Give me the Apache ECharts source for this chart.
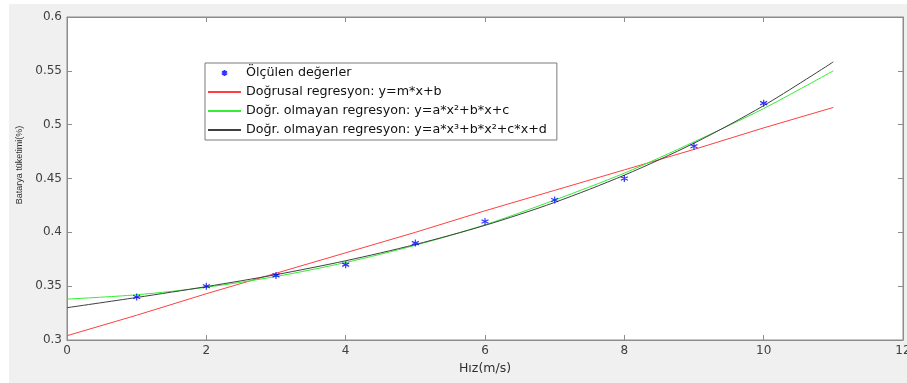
<!DOCTYPE html>
<html lang="tr">
<head>
    <meta charset="UTF-8">
    <title>Batarya tüketimi</title>
    <script src="https://cdn.jsdelivr.net/npm/echarts@6/dist/echarts.min.js"></script>
    <style>
        body { margin: 0; background: #ffffff; }
        #main { position: absolute; left: 9px; top: 4px; width: 898px; height: 379px; background: #f0f0f0; }
    </style>
</head>
<body>

<div id="main"></div>

<script type="text/javascript">
    // ölçülen değerler
    var hiz = [1, 2, 3, 4, 5, 6, 7, 8, 9, 10];
    var tuketim = [0.34, 0.35, 0.36, 0.37, 0.39, 0.41, 0.43, 0.45, 0.48, 0.52];

    // regresyon eğrileri (x = 0..11)
    var egriX = [0, 1, 2, 3, 4, 5, 6, 7, 8, 9, 10, 11];
    var dogrusal = [0.304, 0.323, 0.343, 0.362, 0.381, 0.400, 0.420, 0.439, 0.458, 0.477, 0.497, 0.516];
    var ikinci = [0.338, 0.342, 0.349, 0.359, 0.372, 0.388, 0.407, 0.430, 0.455, 0.484, 0.515, 0.550];
    var ucuncu = [0.330, 0.3395, 0.3496, 0.3607, 0.3736, 0.3887, 0.4065, 0.4278, 0.4531, 0.4828, 0.5177, 0.5583];

    var xTicks = { min: 0, max: 12, interval: 2 };
    var yTicks = { min: 0.3, max: 0.6, interval: 0.05 };

    var isimler = [
        'Ölçülen değerler',
        'Doğrusal regresyon: y=m*x+b',
        'Doğr. olmayan regresyon: y=a*x²+b*x+c',
        'Doğr. olmayan regresyon: y=a*x³+b*x²+c*x+d'
    ];

    function pairs(xs, ys) {
        var out = [];
        for (var i = 0; i < xs.length; i++) {
            out.push([xs[i], ys[i]]);
        }
        return out;
    }

    var yildiz = 'path://M0,-5L0,5M-4.3,-2.5L4.3,2.5M-4.3,2.5L4.3,-2.5';
    var eksenRenk = '#8c8c8c';
    var yazi = { color: '#404040', fontSize: 12, fontFamily: 'DejaVu Sans, sans-serif' };

    var myChart = echarts.init(document.getElementById('main'));

    function eksen(pos, t, etiket) {
        return {
            type: 'value',
            position: pos,
            min: t.min,
            max: t.max,
            interval: t.interval,
            splitLine: { show: false },
            axisLine: { show: true, onZero: false, lineStyle: { color: eksenRenk, width: 1 } },
            axisTick: { show: true, inside: true, length: 5, lineStyle: { color: eksenRenk } },
            axisLabel: etiket ? {
                show: true, margin: 5,
                color: yazi.color, fontSize: yazi.fontSize, fontFamily: yazi.fontFamily
            } : { show: false }
        };
    }

    var xAlt = eksen('bottom', xTicks, true);
    xAlt.name = 'Hız(m/s)';
    xAlt.nameLocation = 'middle';
    xAlt.nameGap = 20;
    xAlt.nameTextStyle = { color: '#303030', fontSize: 12.5, fontFamily: yazi.fontFamily };

    var ySol = eksen('left', yTicks, true);
    ySol.name = 'Batarya tüketimi(%)';
    ySol.nameLocation = 'middle';
    ySol.nameGap = 40;
    ySol.nameTextStyle = {
        color: '#303030', fontSize: 9,
        fontFamily: 'Liberation Sans, Arial, sans-serif',
        padding: [0, 0, 0, 27]
    };

    // çizgi öğelerinde lejant dairesini gizle
    var lejant = [];
    for (var i = 0; i < isimler.length; i++) {
        lejant.push(i === 0 ? { name: isimler[i] } : { name: isimler[i], itemStyle: { opacity: 0 } });
    }

    var option = {
        animation: false,
        grid: {
            left: 58, right: 4, top: 13, bottom: 43,
            outerBoundsMode: 'none',
            show: true, backgroundColor: '#ffffff', borderColor: eksenRenk, borderWidth: 1
        },
        legend: {
            orient: 'vertical',
            left: 196,
            top: 59,
            padding: [2, 10, 2, 2],
            itemGap: 3,
            itemWidth: 33,
            itemHeight: 6,
            backgroundColor: '#ffffff',
            borderColor: '#7a7a7a',
            borderWidth: 1,
            borderRadius: 0,
            textStyle: { color: '#111', fontSize: 12.7, lineHeight: 16, fontFamily: yazi.fontFamily },
            data: lejant
        },
        xAxis: [xAlt, eksen('top', xTicks, false)],
        yAxis: [ySol, eksen('right', yTicks, false)],
        series: [
            {
                name: isimler[0],
                type: 'scatter',
                symbol: yildiz,
                symbolSize: 7,
                itemStyle: { color: '#0000ff', borderColor: '#0000ff', borderWidth: 1.2 },
                data: pairs(hiz, tuketim),
                z: 5
            },
            {
                name: isimler[1],
                type: 'line',
                symbol: 'none',
                lineStyle: { color: '#ff4040', width: 1 },
                itemStyle: { color: '#ff4040' },
                data: pairs(egriX, dogrusal)
            },
            {
                name: isimler[2],
                type: 'line',
                symbol: 'none',
                smooth: 0.3,
                lineStyle: { color: '#33ee33', width: 1 },
                itemStyle: { color: '#33ee33' },
                data: pairs(egriX, ikinci)
            },
            {
                name: isimler[3],
                type: 'line',
                symbol: 'none',
                smooth: 0.3,
                lineStyle: { color: '#404040', width: 1 },
                itemStyle: { color: '#404040' },
                data: pairs(egriX, ucuncu)
            }
        ]
    };

    myChart.setOption(option);
</script>
</body>
</html>
